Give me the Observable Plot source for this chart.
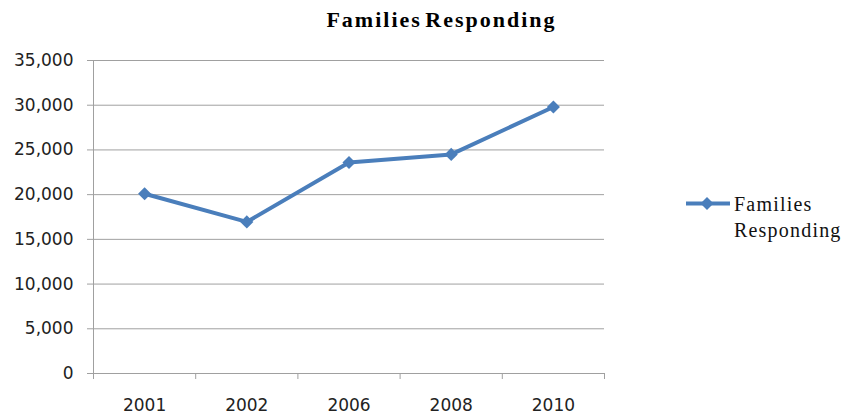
<!DOCTYPE html>
<html><head><meta charset="utf-8">
<script src="https://cdn.jsdelivr.net/npm/d3@7"></script>
<script src="https://cdn.jsdelivr.net/npm/@observablehq/plot@0.6"></script>
<style>
body{margin:0;background:#fff;}
#wrap{position:relative;width:857px;height:418px;overflow:hidden;}
#title{height:40px;width:883px;text-align:center;font-family:"Liberation Serif",serif;font-weight:bold;font-size:22px;letter-spacing:2px;word-spacing:-4px;line-height:40px;color:#000;box-sizing:border-box;}
#chart svg{display:block;}
#legend{position:absolute;left:686px;top:192px;}
#legend svg{position:absolute;left:0;top:0;}
#legtext{position:absolute;left:48px;top:-1px;font-family:"Liberation Serif",serif;font-size:20px;line-height:26px;letter-spacing:1.2px;color:#111;white-space:nowrap;}
</style></head><body>
<div id="wrap">
<div id="title">Families Responding</div>
<div id="chart"></div>
<div id="legend">
<svg width="46" height="24"><line x1="0" y1="11.5" x2="44" y2="11.5" stroke="#4a7ebb" stroke-width="4"/><path d="M21,5 L27.5,11.5 L21,18 L14.5,11.5 Z" fill="#4a7ebb"/></svg>
<div id="legtext">Families<br>Responding</div>
</div>
</div>
<script>
const years = ["2001", "2002", "2006", "2008", "2010"];
const families = [20100, 16950, 23600, 24500, 29800];
const yTicks = [0, 5000, 10000, 15000, 20000, 25000, 30000, 35000];
const seriesName = "Families Responding";

const data = years.map((year, i) => ({year, idx: i + 0.5, value: families[i]}));
const bounds = d3.range(years.length + 1);
const centers = years.map((y, i) => i + 0.5);
const gray = "#a0a0a0";

const plot = Plot.plot({
  width: 857, height: 378,
  marginLeft: 93, marginRight: 253, marginTop: 20, marginBottom: 45,
  style: {fontFamily: "DejaVu Sans", fontSize: "17px", color: "#222", background: "white"},
  x: {domain: [0, years.length]},
  y: {domain: [0, 35000]},
  marks: [
    Plot.gridY(yTicks, {stroke: gray, strokeOpacity: 1, strokeWidth: 1}),
    Plot.axisY(yTicks, {tickSize: 6, tickPadding: 14, tickFormat: d3.format(","), stroke: gray, fill: "#222", label: null}),
    Plot.axisX(bounds, {tickSize: 6, tickFormat: () => "", stroke: gray, label: null}),
    Plot.axisX(centers, {tickSize: 0, tickPadding: 25, tickFormat: d => years[Math.floor(d)], fill: "#222", label: null}),
    Plot.ruleX([0], {stroke: gray}),
    Plot.ruleY([0], {stroke: gray}),
    Plot.line(data, {x: "idx", y: "value", stroke: "#4a7ebb", strokeWidth: 4}),
    Plot.dot(data, {x: "idx", y: "value", symbol: "diamond2", r: 5.9, fill: "#4a7ebb", stroke: "none"})
  ]
});
document.getElementById("chart").appendChild(plot);
</script>
</body></html>
